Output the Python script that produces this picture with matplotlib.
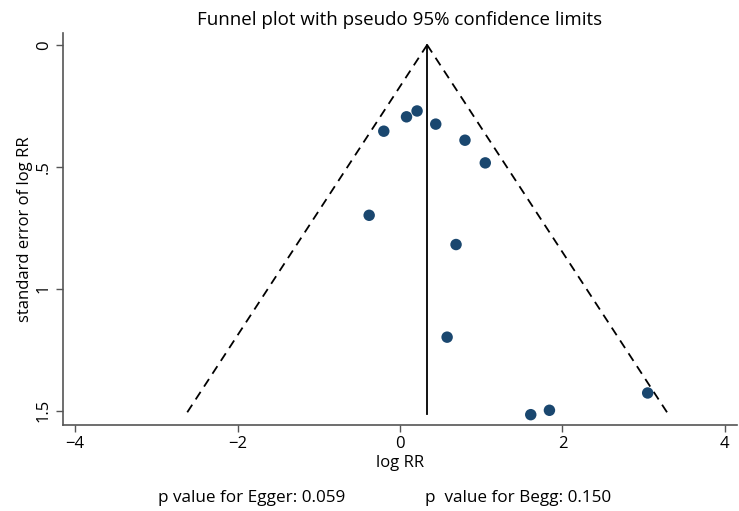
import matplotlib
matplotlib.use("Agg")
import matplotlib.pyplot as plt
import numpy as np

# Data
log_rr = [-0.20, 0.08, 0.21, 0.44, 0.80, 1.05, -0.38, 0.69, 0.58, 1.61, 1.84, 3.05]
se_log_rr = [0.354, 0.295, 0.271, 0.325, 0.391, 0.484, 0.699, 0.819, 1.199, 1.517, 1.499, 1.428]
pooled = 0.334
max_se = 1.513
xticks = [-4, -2, 0, 2, 4]
yticks = [0, 0.5, 1, 1.5]
yticklabels = ["0", ".5", "1", "1.5"]

plt.rcParams['font.family'] = ['Open Sans', 'DejaVu Sans']

fig = plt.figure(figsize=(7.39, 5.11), dpi=100)
ax = fig.add_axes([0.0853, 0.168, 0.912, 0.767])

# funnel limits
se_line = np.array([0, max_se])
ax.plot(pooled - 1.96 * se_line, se_line, ls=(0, (5, 3.5)), color='black', lw=1.3)
ax.plot(pooled + 1.96 * se_line, se_line, ls=(0, (5, 3.5)), color='black', lw=1.3)
ax.plot([pooled, pooled], [0, max_se], color='black', lw=1.3)

ax.scatter(log_rr, se_log_rr, s=68, color='#1a476f', zorder=3, edgecolors='none')

ax.set_xlim(-4.15, 4.15)
ax.set_ylim(1.56, -0.048)
ax.set_xticks(xticks)
ax.set_xticklabels([str(t).replace('-', '\u2212') for t in xticks])
ax.set_yticks(yticks)
ax.set_yticklabels(yticklabels, rotation=90, va='center')

for s in ['top', 'right']:
    ax.spines[s].set_visible(False)
for s in ['left', 'bottom']:
    ax.spines[s].set_color('#555555')
    ax.spines[s].set_linewidth(1.2)
ax.tick_params(axis='both', direction='out', length=5, width=1, color='#555555', labelsize=12, pad=3)

ax.set_xlabel('log RR', fontsize=12, labelpad=2)
ax.set_ylabel('standard error of log RR', fontsize=12, labelpad=2)
ax.set_title('Funnel plot with pseudo 95% confidence limits', fontsize=13.5, pad=6)

fig.text(0.214, 0.018, 'p value for Egger: 0.059', fontsize=12.3, ha='left')
fig.text(0.575, 0.018, 'p  value for Begg: 0.150', fontsize=12.3, ha='left')

fig.savefig('out.png', dpi=100)
